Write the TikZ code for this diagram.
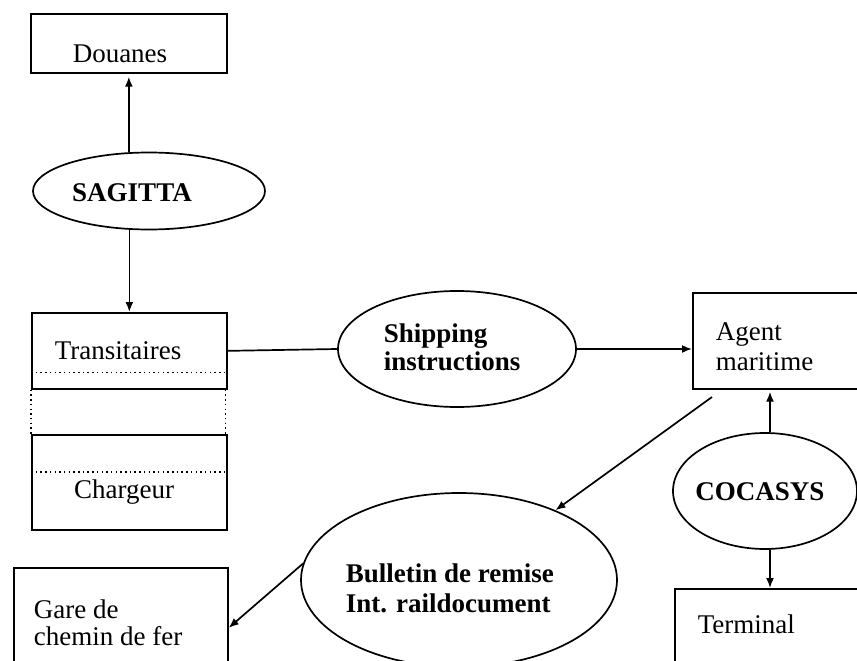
\documentclass[tikz,border=0pt]{standalone}
\usepackage{fontspec}
\setmainfont{Liberation Serif}
\usetikzlibrary{arrows.meta,shapes.geometric}
\begin{document}
\begin{tikzpicture}[x=1pt,y=-1pt, line width=1.7pt,
 box/.style={draw, rectangle, inner sep=0pt, anchor=north west},
 oval/.style={draw, ellipse, inner sep=0pt},
 lbl/.style={inner sep=0pt, font=\fontsize{27}{29}\selectfont},
 blbl/.style={inner sep=0pt, font=\bfseries\fontsize{27}{29}\selectfont},
 arr/.style={-{Latex[length=10pt,width=8pt]}},
 dots/.style={line width=1.5pt, dash pattern=on 1.5pt off 3.2pt}]
\useasboundingbox (0,0) rectangle (857,661);

% boxes
\node[box, minimum width=196pt, minimum height=59pt] (dou) at (30,13) {};
\node[box, minimum width=195pt, minimum height=76pt] (tra) at (31,312) {};
\node[box, minimum width=195pt, minimum height=95pt] (cha) at (31,434) {};
\node[box, minimum width=214pt, minimum height=120pt] (gare) at (13,567) {};
\node[box, minimum width=180pt, minimum height=96pt] (agt) at (692,292) {};
\node[box, minimum width=200pt, minimum height=100pt] (ter) at (674,588) {};

% ellipses
\node[oval, minimum width=232pt, minimum height=77pt] (sag) at (149,191) {};
\node[oval, minimum width=238pt, minimum height=116pt] (shp) at (457,349) {};
\node[oval, minimum width=184pt, minimum height=116pt] (coc) at (765,491) {};
\node[oval, minimum width=316pt, minimum height=174pt] (bul) at (459,580) {};

% dotted separators
\draw[dots] ([yshift=17pt]tra.south west) -- ([yshift=17pt]tra.south east);
\draw[dots] ([yshift=-38pt]cha.north west) -- ([yshift=-38pt]cha.north east);
\draw[dots] (tra.south west) -- (cha.north west);
\draw[dots] ([xshift=-2pt]tra.south east) -- ([xshift=-2pt]cha.north east);

% texts
\node[lbl, anchor=base] (tdou) at (120,63) {Douanes};
\node[lbl, anchor=base] (ttra) at (118,359) {Transitaires};
\node[lbl, anchor=base] (tcha) at (124,498) {Chargeur};
\node[lbl, anchor=base west] (tgare1) at (33,618) {Gare de};
\node[lbl, anchor=base west] (tgare2) at (33,645) {chemin de fer};
\node[lbl, anchor=base west] (tagt1) at (715,340) {Agent};
\node[lbl, anchor=base west] (tagt2) at (715,370) {maritime};
\node[lbl, anchor=base west] (tter) at (697,633) {Terminal};
\node[blbl, anchor=base] (tsag) at (132,201) {SAGITTA};
\node[blbl, anchor=base west] (tshp1) at (383,342) {Shipping};
\node[blbl, anchor=base west] (tshp2) at (383,370) {instructions};
\node[blbl, anchor=base] (tcoc) at (760,500) {COCASYS};
\node[blbl, anchor=base west] (tbul1) at (345,582) {Bulletin de remise};
\node[blbl, anchor=base west] (tbul2) at (345,612) {Int. raildocument};

% connectors
\draw[arr, shorten >=3pt] (sag.north -| dou.south) -- (dou.south);
\draw[arr] (sag.south -| tra.north) -- (tra.north);
\draw (tra.east) -- (shp.west);
\draw[arr] (shp.east) -- (shp.east -| agt.west);
\coordinate (a1) at (712,397);
\draw[arr] (a1) -- (bul);
\draw[arr, shorten >=2pt] ([xshift=5pt]coc.north) -- ([xshift=5pt]coc.north |- agt.south);
\draw[arr] ([xshift=5pt]coc.south) -- ([xshift=5pt]coc.south |- ter.north);
\draw[arr] (bul.174) -- (gare.east);
\end{tikzpicture}
\end{document}
